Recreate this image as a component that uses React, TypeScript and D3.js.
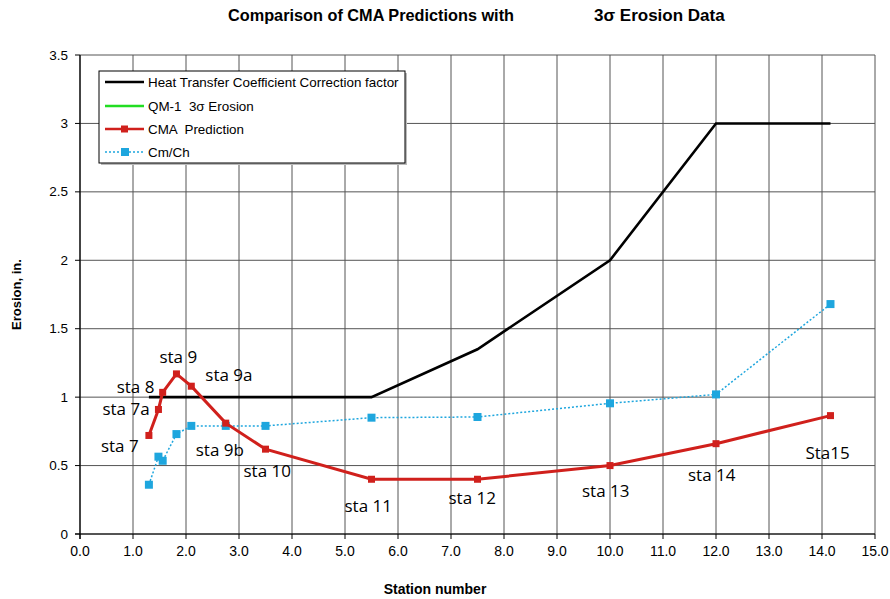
import React from "react";
import * as d3 from "d3";

const stationX = [1.3, 1.48, 1.56, 1.82, 2.1, 2.75, 3.5, 5.5, 7.5, 10, 12, 14.16];
const cmaPrediction = [0.72, 0.91, 1.035, 1.17, 1.08, 0.81, 0.62, 0.40, 0.40, 0.50, 0.66, 0.865];
const cmCh = [0.36, 0.565, 0.535, 0.73, 0.79, 0.79, 0.79, 0.85, 0.855, 0.955, 1.02, 1.68];
const htcX = [1.3, 5.5, 7.5, 10, 12, 14.16];
const htcY = [1.0, 1.0, 1.35, 2.0, 3.0, 3.0];
const stationLabels = ["sta 7", "sta 7a", "sta 8", "sta 9", "sta 9a", "sta 9b", "sta 10", "sta 11", "sta 12", "sta 13", "sta 14", "Sta15"];
const xTicks = d3.range(0, 16, 1);
const yTicks = [0, 0.5, 1, 1.5, 2, 2.5, 3, 3.5];
const legendItems = ["Heat Transfer Coefficient Correction factor", "QM-1  3σ Erosion", "CMA  Prediction", "Cm/Ch"];

// label anchor offsets (px) relative to the data point
const labelOffsets: [number, number][] = [
  [-48, 17], [-56, 6], [-46, 1], [-17, -11], [14, -5], [-30, 33], [-22, 28], [-27, 33], [-29, 25], [-28, 31], [-28, 37], [-25, 43],
];

const W = 890;
const H = 599;
const margin = { left: 80, right: 15, top: 55, bottom: 65 };

export default function App() {
  const x = d3.scaleLinear().domain([0, 15]).range([margin.left, W - margin.right]);
  const y = d3.scaleLinear().domain([0, 3.5]).range([H - margin.bottom, margin.top]);

  const line = d3
    .line<[number, number]>()
    .x((d) => x(d[0]))
    .y((d) => y(d[1]));

  const htcPts = htcX.map((v, i) => [v, htcY[i]] as [number, number]);
  const cmaPts = stationX.map((v, i) => [v, cmaPrediction[i]] as [number, number]);
  const cmPts = stationX.map((v, i) => [v, cmCh[i]] as [number, number]);

  const red = "#d0201c";
  const blue = "#1ea6de";
  const grid = "#555";
  const axisFont = "'Liberation Sans Narrow', 'Liberation Sans', Arial, sans-serif";
  const font = "'Liberation Sans', Arial, sans-serif";

  const x0 = x(0);
  const x1 = x(15);
  const y0 = y(0);
  const y1 = y(3.5);

  const lg = { x: 99, y: 71, w: 306, h: 92 };
  const rowY = [82, 106, 129, 152];

  return (
    <svg width={W} height={H} style={{ position: "absolute", left: 0, top: 0, background: "#fff" }}>
      <rect x={0} y={0} width={W} height={H} fill="#fff" />
      {/* title */}
      <text x={228} y={21} fontFamily={font} fontWeight="bold" fontSize={16.5} fill="#000" textLength={286} lengthAdjust="spacingAndGlyphs">
        Comparison of CMA Predictions with
      </text>
      <text x={594} y={21} fontFamily={font} fontWeight="bold" fontSize={17} fill="#000">
        3σ Erosion Data
      </text>

      {/* grid */}
      {xTicks.map((t) => (
        <line key={"gx" + t} x1={x(t)} x2={x(t)} y1={y1} y2={y0} stroke={grid} strokeWidth={1} />
      ))}
      {yTicks.map((t) => (
        <line key={"gy" + t} x1={x0} x2={x1} y1={y(t)} y2={y(t)} stroke={grid} strokeWidth={1} />
      ))}

      {/* axes */}
      <line x1={x0} x2={x0} y1={y1} y2={y0 + 5} stroke="#000" strokeWidth={1.2} />
      <line x1={x0 - 5} x2={x1} y1={y0} y2={y0} stroke="#000" strokeWidth={1.2} />
      {yTicks.map((t) => (
        <g key={"yt" + t}>
          <line x1={x0 - 5} x2={x0} y1={y(t)} y2={y(t)} stroke="#000" />
          <text x={x0 - 12} y={y(t) + 4.5} textAnchor="end" fontFamily={font} fontSize={13.5} fill="#000">
            {String(t)}
          </text>
        </g>
      ))}
      {xTicks.map((t) => (
        <g key={"xt" + t}>
          <line x1={x(t)} x2={x(t)} y1={y0} y2={y0 + 5} stroke="#000" />
          <text x={x(t)} y={y0 + 22} textAnchor="middle" fontFamily={axisFont} fontSize={14} fill="#000">
            {t.toFixed(1)}
          </text>
        </g>
      ))}

      {/* axis titles */}
      <text x={435} y={594} textAnchor="middle" fontFamily={axisFont} fontWeight="bold" fontSize={14} fill="#000">
        Station number
      </text>
      <text
        transform={`translate(21,${(y0 + y1) / 2}) rotate(-90)`}
        textAnchor="middle"
        fontFamily={font}
        fontWeight="bold"
        fontSize={13}
        fill="#000"
      >
        Erosion, in.
      </text>

      {/* series */}
      <path d={line(htcPts) || ""} fill="none" stroke="#000" strokeWidth={2.6} />
      <path d={line(cmPts) || ""} fill="none" stroke={blue} strokeWidth={1.5} strokeDasharray="2,2" />
      {cmPts.map((p, i) => (
        <rect key={"cm" + i} x={x(p[0]) - 4} y={y(p[1]) - 4} width={8} height={8} fill={blue} />
      ))}
      <path d={line(cmaPts) || ""} fill="none" stroke={red} strokeWidth={3} />
      {cmaPts.map((p, i) => (
        <rect key={"cma" + i} x={x(p[0]) - 3.5} y={y(p[1]) - 3.5} width={7} height={7} fill={red} />
      ))}

      {/* station labels */}
      {cmaPts.map((p, i) => (
        <text
          key={"lbl" + i}
          x={x(p[0]) + labelOffsets[i][0]}
          y={y(p[1]) + labelOffsets[i][1]}
          fontFamily="'Open Sans', 'DejaVu Sans', sans-serif"
          fontSize={17}
          fill="#000"
        >
          {stationLabels[i]}
        </text>
      ))}

      {/* legend */}
      <rect x={lg.x + 2} y={lg.y + 2} width={lg.w} height={lg.h} fill="#bbb" />
      <rect x={lg.x} y={lg.y} width={lg.w} height={lg.h} fill="#fff" stroke="#000" strokeWidth={1} />
      <line x1={105} x2={144} y1={rowY[0]} y2={rowY[0]} stroke="#000" strokeWidth={2.6} />
      <line x1={105} x2={144} y1={rowY[1]} y2={rowY[1]} stroke="#22dd22" strokeWidth={2.6} />
      <line x1={105} x2={144} y1={rowY[2]} y2={rowY[2]} stroke={red} strokeWidth={2.6} />
      <rect x={121} y={rowY[2] - 3.5} width={7} height={7} fill={red} />
      <line x1={105} x2={144} y1={rowY[3]} y2={rowY[3]} stroke={blue} strokeWidth={1.5} strokeDasharray="2,2" />
      <rect x={121} y={rowY[3] - 4} width={8} height={8} fill={blue} />
      {legendItems.map((s, i) => (
        <text key={"lg" + i} x={148} y={rowY[i] + 5} fontFamily={font} fontSize={13.4} fill="#000" style={{ whiteSpace: "pre" }}>
          {s}
        </text>
      ))}
    </svg>
  );
}
